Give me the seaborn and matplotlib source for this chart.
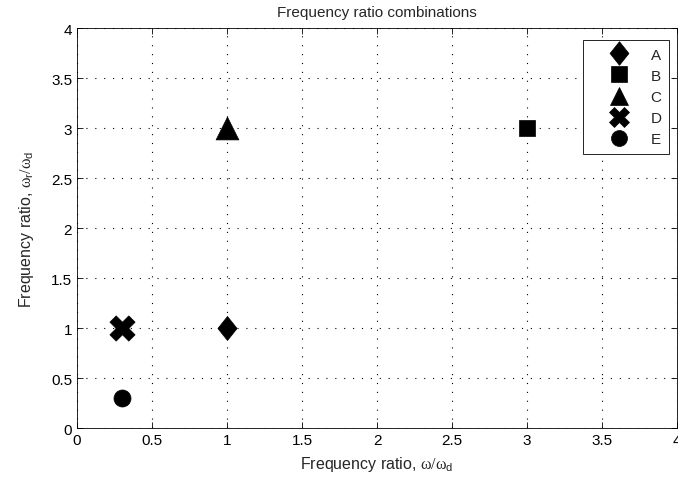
import pandas as pd
import numpy as np
import matplotlib
matplotlib.use("Agg")
import matplotlib.pyplot as plt
from matplotlib.lines import Line2D
import seaborn as sns

# Data
labels = ["A", "B", "C", "D", "E"]
omega_ratio = [1.0, 3.0, 1.0, 0.3, 0.3]      # omega / omega_d
omega_r_ratio = [1.0, 3.0, 3.0, 1.0, 0.3]    # omega_r / omega_d
tick_vals = [0, 0.5, 1, 1.5, 2, 2.5, 3, 3.5, 4]
tick_text = ["0", "0.5", "1", "1.5", "2", "2.5", "3", "3.5", "4"]

df = pd.DataFrame({"label": labels, "x": omega_ratio, "y": omega_r_ratio})

# matlab-ish markers (diamond is taller than wide)
diamond = [(0, 1), (0.8, 0), (0, -1), (-0.8, 0), (0, 1)]
marker_map = {"A": diamond, "B": "s", "C": "^", "D": "X", "E": "o"}
size_map = {"A": 300, "B": 135, "C": 270, "D": 330, "E": 150}
leg_size = {"A": 17, "B": 11.2, "C": 13.5, "D": 14, "E": 11.5}

sns.set_style("ticks")
plt.rcParams["font.family"] = ["Liberation Sans", "DejaVu Sans"]
plt.rcParams["mathtext.fontset"] = "custom"
plt.rcParams["mathtext.rm"] = "Liberation Serif"
plt.rcParams["mathtext.it"] = "Liberation Serif"
plt.rcParams["mathtext.sf"] = "Liberation Sans"
plt.rcParams["font.size"] = 11

fig = plt.figure(figsize=(6.78, 4.81), dpi=100)
ax = fig.add_axes([0.1136, 0.108, 0.885, 0.8317])

for lab in labels:
    sub = df[df["label"] == lab]
    sns.scatterplot(data=sub, x="x", y="y", marker=marker_map[lab],
                    s=size_map[lab], color="black", edgecolor="black",
                    linewidth=0.5, ax=ax, legend=False, zorder=3)

ax.set_xlim(0, 4)
ax.set_ylim(0, 4)
ax.set_xticks(tick_vals)
ax.set_yticks(tick_vals)
ax.set_xticklabels(tick_text)
ax.set_yticklabels(tick_text)
ax.grid(True, linestyle=(0, (1, 7)), color="black", linewidth=0.8)
ax.tick_params(direction="in", top=True, right=True, length=4, width=0.6,
               labelsize=11, colors="black", pad=3.5)
for s in ax.spines.values():
    s.set_visible(True)
    s.set_linewidth(0.6)
    s.set_color("black")

ax.set_xlabel(r"Frequency ratio, $\mathrm{\omega/\omega}_{\mathsf{d}}$",
              fontsize=11.5, labelpad=5)
ax.set_ylabel(r"Frequency ratio, $\mathrm{\omega}_{\mathsf{r}}\mathrm{/\omega}_{\mathsf{d}}$",
              fontsize=11.5, labelpad=11)
ax.set_title("Frequency ratio combinations", fontsize=11, pad=9)

handles = [Line2D([], [], linestyle="none", marker=marker_map[lab],
                  markersize=leg_size[lab], color="black",
                  markeredgewidth=0.5, label=lab) for lab in labels]
leg = ax.legend(handles=handles, loc="upper right", bbox_to_anchor=(0.987, 0.97),
                borderaxespad=0, frameon=True, fancybox=False, edgecolor="black",
                framealpha=1, fontsize=11, handlelength=3.8, handletextpad=0.15,
                labelspacing=0.47, borderpad=0.5, markerfirst=True)
leg.get_frame().set_linewidth(0.6)

fig.savefig("out.png", dpi=100)
